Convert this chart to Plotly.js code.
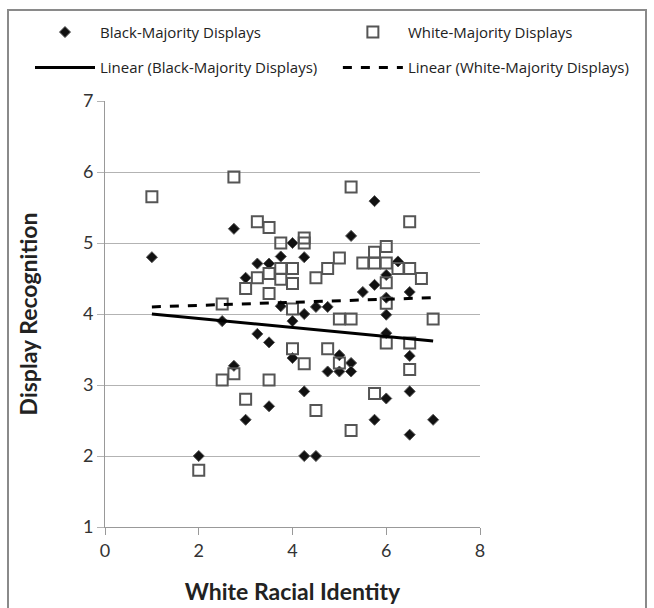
<!DOCTYPE html>
<html>
<head>
<meta charset="utf-8">
<script src="https://cdn.plot.ly/plotly-3.0.1.min.js"></script>
<style>
  html, body { margin: 0; padding: 0; background: #fff; }
  #wrap { position: relative; width: 654px; height: 608px; overflow: hidden; }
  #chart { position: absolute; left: 0; top: 0; width: 654px; height: 608px; }
  #frame { position: absolute; left: 7px; top: 9px; width: 636px; height: 640px; border: 2px solid #8a8a8a; pointer-events: none; }
</style>
</head>
<body>
<div id="wrap"><div id="chart"></div><div id="frame"></div></div>
<script>
// Black-Majority Displays (diamonds)
const blackX = [1, 2.75, 3.75, 3.25, 3.5, 3, 3.75, 2.5, 3.25, 3.5, 2.75, 3.5, 3, 2,
  5.75, 5.25, 4, 4.25, 6.25, 6, 5.75, 5.5, 6.5, 6, 4.25, 4, 4.5, 4.75, 6, 6, 6.5,
  4, 5, 5.25, 4.75, 5, 5.25, 4.25, 6, 6.5, 5.75, 7, 6.5, 4.25, 4.5];
const blackY = [4.8, 5.2, 4.81, 4.71, 4.71, 4.51, 4.11, 3.9, 3.72, 3.6, 3.27, 2.7, 2.51, 2.0,
  5.59, 5.1, 5.0, 4.8, 4.74, 4.55, 4.41, 4.31, 4.31, 4.23, 4.0, 3.9, 4.1, 4.1, 3.99, 3.73, 3.41,
  3.38, 3.42, 3.31, 3.19, 3.19, 3.19, 2.91, 2.81, 2.91, 2.51, 2.51, 2.3, 2.0, 2.0];

// White-Majority Displays (open squares)
const whiteX = [1, 2.75, 3.25, 3.5, 3.75, 3.25, 3, 3.5, 3.75, 3.75, 4, 3.5, 2.5, 4, 2.75, 2.5, 3.5, 3, 2,
  5.25, 6.5, 4.25, 4.25, 5, 4.75, 4.5, 4, 5.5, 5.75, 5.75, 6, 6, 6.25, 6.5, 6.75, 6, 6, 4,
  5, 5.25, 7, 6, 6.5, 4.75, 6.5, 4.25, 5, 5.75, 4.5, 5.25];
const whiteY = [5.65, 5.93, 5.3, 5.22, 5.0, 4.51, 4.36, 4.57, 4.64, 4.49, 4.43, 4.29, 4.14, 3.51, 3.16, 3.07, 3.07, 2.8, 1.8,
  5.79, 5.3, 5.07, 5.0, 4.79, 4.64, 4.51, 4.64, 4.72, 4.87, 4.72, 4.95, 4.72, 4.64, 4.64, 4.5, 4.44, 4.15, 4.07,
  3.93, 3.93, 3.93, 3.59, 3.59, 3.51, 3.22, 3.3, 3.31, 2.88, 2.64, 2.36];

// Linear trend lines (end points)
const trendX = [1, 7];
const blackTrendY = [4.0, 3.62];
const whiteTrendY = [4.10, 4.23];

const names = ["Black-Majority Displays", "White-Majority Displays",
  "Linear (Black-Majority Displays)", "Linear (White-Majority Displays)"];

const FONT = "Lato, 'Open Sans', 'DejaVu Sans', sans-serif";
const LEGFONT = "'Open Sans', Lato, 'DejaVu Sans', sans-serif";

const traces = [
  { x: blackX, y: blackY, type: "scatter", mode: "markers", name: names[0], legend: "legend",
    marker: { symbol: "diamond", size: 8.5, color: "#111", line: { color: "#555", width: 1 } } },
  { x: whiteX, y: whiteY, type: "scatter", mode: "markers", name: names[1], legend: "legend2",
    marker: { symbol: "square-open", size: 11, color: "#555", line: { color: "#555", width: 2 } } },
  { x: trendX, y: blackTrendY, type: "scatter", mode: "lines", name: names[2], legend: "legend3",
    line: { color: "#000", width: 3 } },
  { x: trendX, y: whiteTrendY, type: "scatter", mode: "lines", name: names[3], legend: "legend4",
    line: { color: "#000", width: 3, dash: "dash" } }
];

function leg(x, y) {
  return {
    orientation: "v", x: x, xanchor: "left", y: y, yanchor: "top", itemwidth: 60,
    font: { size: 15, color: "#222", family: LEGFONT }, bgcolor: "rgba(0,0,0,0)", borderwidth: 0
  };
}

const layout = {
  width: 654, height: 608,
  margin: { l: 105, r: 174, t: 101, b: 81 },
  paper_bgcolor: "#fff", plot_bgcolor: "#fff",
  font: { family: FONT, color: "#222" },
  showlegend: true,
  legend: leg(-0.2, 1.2),
  legend2: leg(0.621, 1.2),
  legend3: leg(-0.2, 1.117),
  legend4: leg(0.621, 1.117),
  xaxis: {
    range: [0, 8], tickvals: [0, 2, 4, 6, 8], ticktext: ["0", "2", "4", "6", "8"],
    showgrid: false, zeroline: false, showline: true, linecolor: "#999", linewidth: 1,
    ticks: "outside", ticklen: 7, tickcolor: "#999",
    tickfont: { size: 18, color: "#333", family: FONT },
    title: { text: "<b>White Racial Identity</b>", font: { size: 23, color: "#222", family: FONT }, standoff: 24 }
  },
  yaxis: {
    range: [1, 7], tickvals: [1, 2, 3, 4, 5, 6, 7], ticktext: ["1", "2", "3", "4", "5", "6", "7"],
    showgrid: true, gridcolor: "#b3b3b3", gridwidth: 1, zeroline: false,
    showline: true, linecolor: "#999", linewidth: 1,
    ticks: "outside", ticklen: 7, tickcolor: "#b3b3b3",
    tickfont: { size: 18, color: "#333", family: FONT },
    title: { text: "<b>Display Recognition</b>", font: { size: 23, color: "#222", family: FONT }, standoff: 38 }
  }
};

Plotly.newPlot("chart", traces, layout, { displayModeBar: false, staticPlot: true });
</script>
</body>
</html>
